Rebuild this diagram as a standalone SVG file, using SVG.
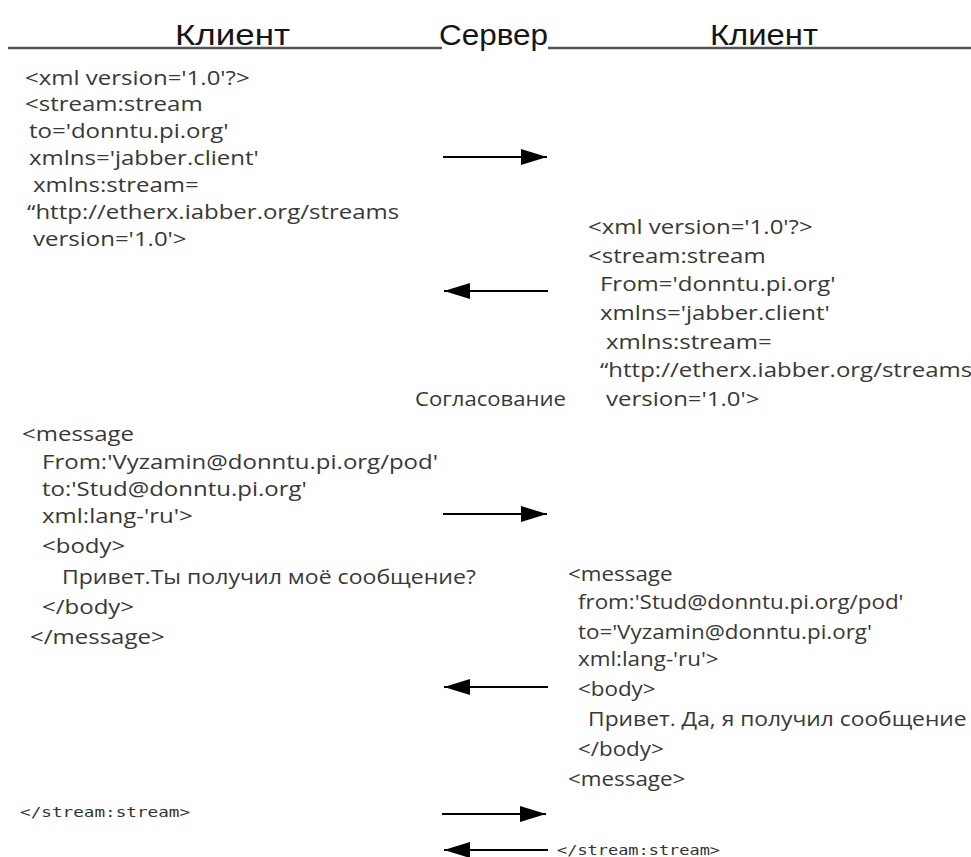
<svg xmlns="http://www.w3.org/2000/svg" width="971" height="857" viewBox="0 0 971 857">
  <defs>
    <marker id="head" markerUnits="userSpaceOnUse" markerWidth="28" markerHeight="18" refX="26" refY="8" orient="auto">
      <path d="M0,0 L26,8 L0,16 Z" fill="#000"/>
    </marker>
    <style>
      .hdr { font-family: "Liberation Sans", Arial, sans-serif; font-size: 30px; fill: #151515; }
      .code { font-family: "Open Sans", "Noto Sans", sans-serif; font-size: 20px; fill: #383838; }
      .mono { font-family: "DejaVu Sans Mono", "Liberation Mono", monospace; font-size: 14px; fill: #333; }
      .rule { stroke: #555; stroke-width: 2.5; }
      .arrow { stroke: #000; stroke-width: 2; fill: none; marker-end: url(#head); }
    </style>
  </defs>
  <rect width="971" height="857" fill="#fff"/>

  <!-- column headings -->
  <g id="headings">
    <text class="hdr" x="175" y="45" textLength="115" lengthAdjust="spacingAndGlyphs">Клиент</text>
    <text class="hdr" x="439" y="45" textLength="109" lengthAdjust="spacingAndGlyphs">Сервер</text>
    <text class="hdr" x="710" y="45" textLength="108" lengthAdjust="spacingAndGlyphs">Клиент</text>
    <line class="rule" x1="8" y1="48" x2="442" y2="48"/>
    <line class="rule" x1="548" y1="48" x2="971" y2="48"/>
  </g>

  <!-- client opens the stream -->
  <g id="client-stream-open" transform="translate(25,0) scale(1.2,1)">
    <text class="code" x="0" y="85">&lt;xml version='1.0'?&gt;</text>
    <text class="code" x="0" y="111">&lt;stream:stream</text>
    <text class="code" x="3.3" y="138">to='donntu.pi.org'</text>
    <text class="code" x="3.3" y="165">xmlns='jabber.client'</text>
    <text class="code" x="6.7" y="192">xmlns:stream=</text>
    <text class="code" x="1.7" y="219">“http://etherx.iabber.org/streams</text>
    <text class="code" x="6.7" y="246">version='1.0'&gt;</text>
  </g>

  <!-- server answers with its stream header -->
  <g id="server-stream-open" transform="translate(588,0) scale(1.2,1)">
    <text class="code" x="0" y="234">&lt;xml version='1.0'?&gt;</text>
    <text class="code" x="0" y="263">&lt;stream:stream</text>
    <text class="code" x="10" y="291">From='donntu.pi.org'</text>
    <text class="code" x="10" y="320">xmlns='jabber.client'</text>
    <text class="code" x="15" y="349">xmlns:stream=</text>
    <text class="code" x="10" y="377">“http://etherx.iabber.org/streams</text>
    <text class="code" x="15" y="406">version='1.0'&gt;</text>
  </g>

  <g id="negotiation">
    <text class="code" x="415" y="406" textLength="151" lengthAdjust="spacingAndGlyphs">Согласование</text>
  </g>

  <!-- message from the first client -->
  <g id="client-message" transform="translate(22,0) scale(1.2,1)">
    <text class="code" x="0" y="441">&lt;message</text>
    <text class="code" x="16.7" y="469">From:'Vyzamin@donntu.pi.org/pod'</text>
    <text class="code" x="16.7" y="496">to:'Stud@donntu.pi.org'</text>
    <text class="code" x="16.7" y="523">xml:lang-'ru'&gt;</text>
    <text class="code" x="16.7" y="553">&lt;body&gt;</text>
    <text class="code" x="33.3" y="584" textLength="345" lengthAdjust="spacingAndGlyphs">Привет.Ты получил моё сообщение?</text>
    <text class="code" x="16.7" y="614">&lt;/body&gt;</text>
    <text class="code" x="6.7" y="644">&lt;/message&gt;</text>
  </g>

  <!-- reply from the second client -->
  <g id="reply-message" transform="translate(568,0) scale(1.12,1)">
    <text class="code" x="0" y="581">&lt;message</text>
    <text class="code" x="8.9" y="609">from:'Stud@donntu.pi.org/pod'</text>
    <text class="code" x="8.9" y="639">to='Vyzamin@donntu.pi.org'</text>
    <text class="code" x="8.9" y="666">xml:lang-'ru'&gt;</text>
    <text class="code" x="8.9" y="696">&lt;body&gt;</text>
    <text class="code" x="17.9" y="726" textLength="338" lengthAdjust="spacingAndGlyphs">Привет. Да, я получил сообщение</text>
    <text class="code" x="8.9" y="756">&lt;/body&gt;</text>
    <text class="code" x="0" y="786">&lt;message&gt;</text>
  </g>

  <!-- stream closing tags -->
  <g id="client-stream-close">
    <text class="mono" x="20" y="817" textLength="170" lengthAdjust="spacingAndGlyphs">&lt;/stream:stream&gt;</text>
  </g>
  <g id="server-stream-close">
    <text class="mono" x="557" y="855" textLength="163" lengthAdjust="spacingAndGlyphs">&lt;/stream:stream&gt;</text>
  </g>

  <!-- exchange arrows -->
  <g id="connectors">
    <line class="arrow" x1="443" y1="157" x2="547" y2="157"/>
    <line class="arrow" x1="548" y1="291" x2="444" y2="291"/>
    <line class="arrow" x1="443" y1="514" x2="547" y2="514"/>
    <line class="arrow" x1="548" y1="687" x2="444" y2="687"/>
    <line class="arrow" x1="442" y1="814" x2="546" y2="814"/>
    <line class="arrow" x1="548" y1="850" x2="444" y2="850"/>
  </g>
</svg>
